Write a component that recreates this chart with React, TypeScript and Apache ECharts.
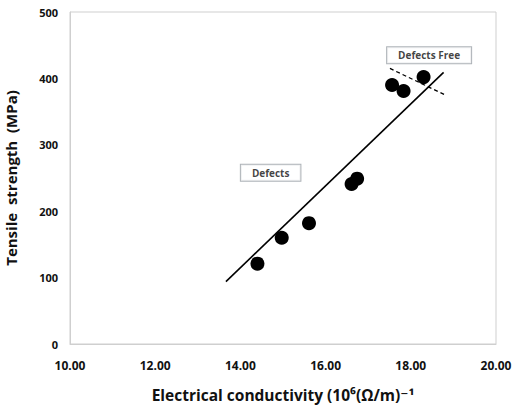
import React, { useEffect, useRef } from "react";
import * as echarts from "echarts";

const conductivity = [14.4, 14.97, 15.61, 16.61, 16.74, 17.56, 17.83, 18.3];
const strength = [121, 160, 182, 241, 249, 390, 381, 402];
const fitLine = [[13.66, 94], [18.77, 409]];
const dashedLine = [[17.51, 415], [18.78, 376]];
const annotations = [
  { name: "Defects", value: [14.71, 258] },
  { name: "Defects Free", value: [18.43, 435] },
];

const FONT = "'Open Sans', 'DejaVu Sans', sans-serif";

export default function App() {
  const ref = useRef<HTMLDivElement>(null);
  useEffect(() => {
    if (!ref.current) return;
    const chart = echarts.init(ref.current, null, { renderer: "svg" });
    chart.setOption({
      animation: false,
      backgroundColor: "#ffffff",
      grid: {
        left: 70,
        right: 16,
        top: 12,
        bottom: 63,
        show: true,
        borderColor: "#cfcfcf",
        borderWidth: 1,
        outerBoundsMode: "none",
        containLabel: false,
      },
      xAxis: {
        type: "value",
        min: 10,
        max: 20,
        interval: 2,
        name: "Electrical conductivity (10⁶(Ω/m)⁻¹",
        nameLocation: "middle",
        nameGap: 43,
        nameTextStyle: { fontFamily: FONT, fontWeight: "bold", fontSize: 15.5, color: "#111" },
        axisLine: { show: true, lineStyle: { color: "#cfcfcf" } },
        axisTick: { show: false },
        splitLine: { show: false },
        axisLabel: {
          formatter: (v: number) => v.toFixed(2),
          fontFamily: FONT,
          fontWeight: "bold",
          fontSize: 12,
          color: "#111",
          margin: 15,
        },
      },
      yAxis: {
        type: "value",
        min: 0,
        max: 500,
        interval: 100,
        name: "Tensile  strength  (MPa)",
        nameLocation: "middle",
        nameGap: 52,
        nameTextStyle: { fontFamily: FONT, fontWeight: "bold", fontSize: 15, color: "#111" },
        axisLine: { show: true, lineStyle: { color: "#cfcfcf" } },
        axisTick: { show: false },
        splitLine: { show: false },
        axisLabel: {
          fontFamily: FONT,
          fontWeight: "bold",
          fontSize: 11,
          color: "#111",
          margin: 12,
        },
      },
      series: [
        {
          type: "line",
          data: fitLine,
          symbol: "none",
          lineStyle: { color: "#000", width: 1.6 },
          z: 2,
        },
        {
          type: "line",
          data: dashedLine,
          symbol: "none",
          lineStyle: { color: "#000", width: 1.3, type: [4, 3] },
          z: 2,
        },
        {
          type: "scatter",
          data: conductivity.map((c, i) => [c, strength[i]]),
          symbol: "circle",
          symbolSize: 14,
          itemStyle: { color: "#000", opacity: 1 },
          z: 3,
        },
        {
          type: "scatter",
          data: annotations,
          symbolSize: 0,
          z: 4,
          label: {
            show: true,
            position: "inside",
            formatter: (p: any) => p.name,
            fontFamily: FONT,
            fontWeight: "bold",
            fontSize: 10,
            color: "#111",
            backgroundColor: "#fff",
            borderColor: "#9aa0a6",
            borderWidth: 1,
            padding: [3, 11, 3, 11],
          },
        },
      ],
    });
    return () => chart.dispose();
  }, []);
  return <div ref={ref} style={{ width: 512, height: 407, position: "absolute", left: 0, top: 0 }} />;
}
